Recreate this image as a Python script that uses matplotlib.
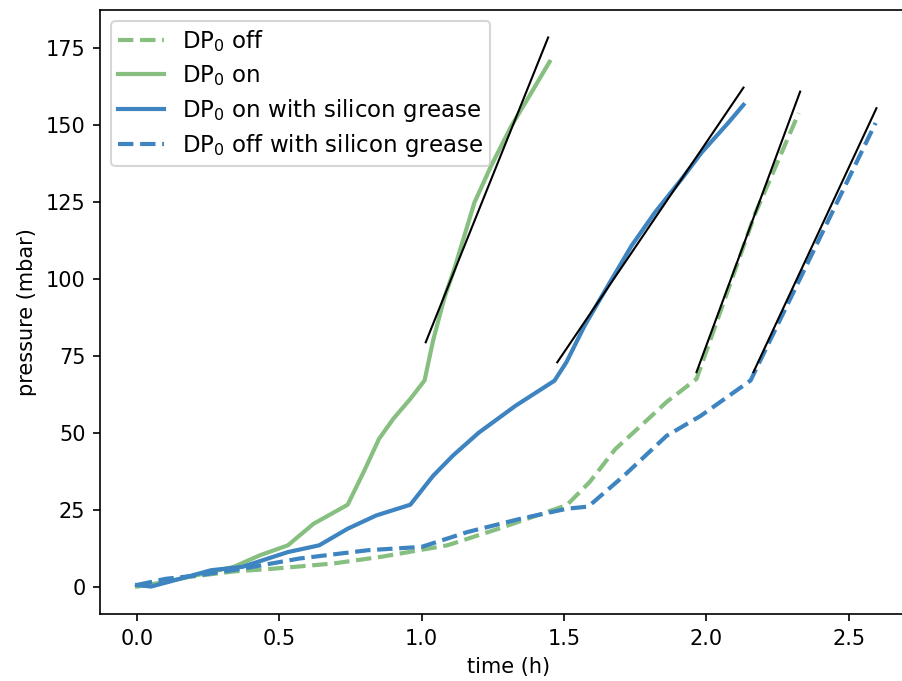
import matplotlib
matplotlib.use("Agg")
import matplotlib.pyplot as plt

# pressure rise measurements (time in h, pressure in mbar)
t_off = [0, 0.17, 0.34, 0.48, 0.69, 0.86, 1.09, 1.27, 1.51, 1.59, 1.68, 1.77, 1.86, 1.965, 2.17, 2.324]
p_off = [0, 3, 4.9, 5.8, 7.5, 9.7, 13.4, 18.8, 26.5, 34, 44.7, 52.3, 60, 67.5, 121, 153.9]

t_on = [0, 0.1, 0.2, 0.34, 0.43, 0.53, 0.62, 0.74, 0.8, 0.85, 0.9, 0.96, 1.01, 1.04, 1.08,
        1.114, 1.185, 1.243, 1.314, 1.384, 1.449]
p_on = [0, 1.5, 3.5, 6.4, 10.1, 13.4, 20.4, 26.6, 38, 48, 54.5, 61, 67, 80, 94,
        103.1, 124.8, 136.6, 149.6, 160.4, 170.6]

t_on_grease = [0, 0.05, 0.15, 0.26, 0.37, 0.53, 0.64, 0.74, 0.84, 0.96, 1.04, 1.11, 1.2,
               1.33, 1.466, 1.508, 1.572, 1.654, 1.737, 1.819, 1.913, 1.983, 2.077, 2.13]
p_on_grease = [0.5, 0, 2.5, 5.3, 6.4, 11.2, 13.4, 18.8, 23.1, 26.6, 36, 42.6, 50,
               58.8, 66.9, 72.9, 84.8, 97.8, 110.8, 121.6, 132.5, 141.1, 150.8, 156.6]

t_off_grease = [0, 0.1, 0.22, 0.37, 0.57, 0.81, 1.0, 1.16, 1.345, 1.51, 1.585, 1.71, 1.86,
                1.98, 2.155, 2.594]
p_off_grease = [0.5, 2.5, 3.7, 5.8, 9.1, 11.8, 12.9, 17.7, 22, 25.3, 26, 36, 49,
                55.5, 67, 150.7]

# linear fits of the final rise of each run
fit_t = [(1.014, 1.444), (1.476, 2.13), (1.965, 2.329), (2.165, 2.597)]
fit_p = [(79.4, 178.5), (72.9, 162.2), (69.7, 160.9), (69.7, 155.5)]

green = "#86bf80"
blue = "#3d84c0"

fig = plt.figure(figsize=(6.02, 4.54), dpi=150)
ax = fig.add_axes([0.1107, 0.0984, 0.905, 0.8869])

ax.plot(t_off, p_off, "--", color=green, lw=2, label="DP$_0$ off")
ax.plot(t_on, p_on, "-", color=green, lw=2, label="DP$_0$ on")
ax.plot(t_on_grease, p_on_grease, "-", color=blue, lw=2, label="DP$_0$ on with silicon grease")
ax.plot(t_off_grease, p_off_grease, "--", color=blue, lw=2, label="DP$_0$ off with silicon grease")

for (ta, tb), (pa, pb) in zip(fit_t, fit_p):
    ax.plot([ta, tb], [pa, pb], color="black", lw=1)

ax.set_xlim(-0.13, 2.74)
ax.set_xticks([0.0, 0.5, 1.0, 1.5, 2.0, 2.5])
ax.set_yticks([0, 25, 50, 75, 100, 125, 150, 175])
ax.set_xlabel("time (h)")
ax.set_ylabel("pressure (mbar)")
ax.legend(loc="upper left", fontsize=11, labelspacing=0.38, borderpad=0.3)

fig.savefig("out.png", dpi=150)
